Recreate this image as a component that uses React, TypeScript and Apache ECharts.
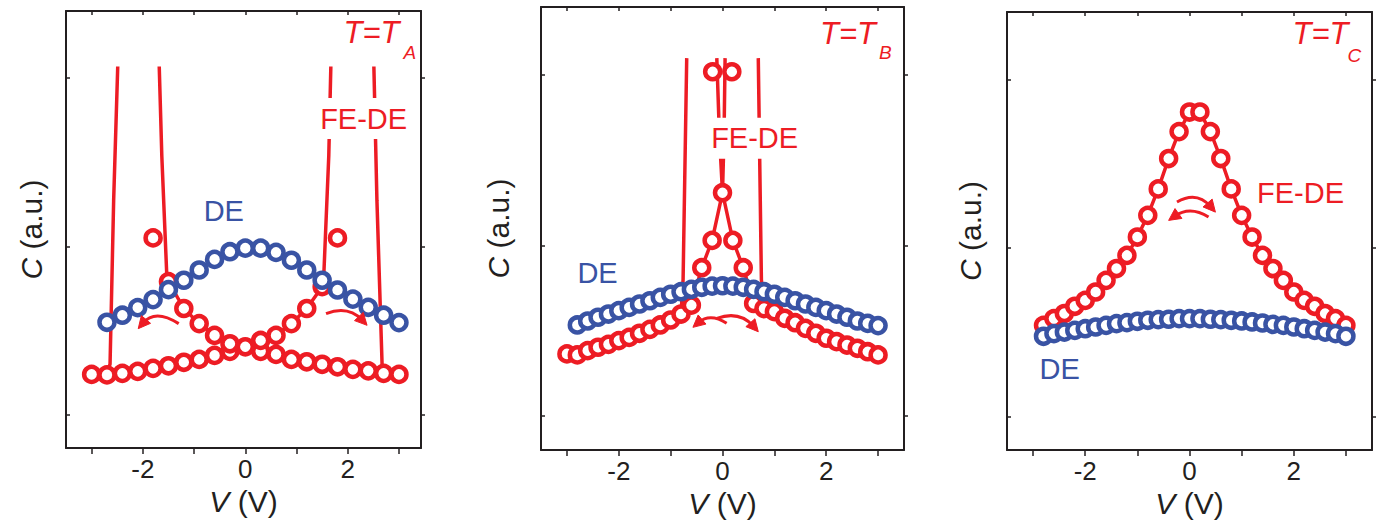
import React, { useEffect, useRef } from 'react';
import * as echarts from 'echarts';

const FONT = '"Liberation Sans", Arial, Helvetica, sans-serif';
const RED = '#ED1C24';
const BLUE = '#3953A4';
const INK = '#231F20';

// ---------- Panel A (T = T_A) ----------
const vA_low = [-3.0, -2.7, -2.4, -2.1, -1.8, -1.5, -1.2, -0.9, -0.6, -0.3, 0.0, 0.3, 0.6, 0.9, 1.2, 1.5, 1.8, 2.1, 2.4, 2.7, 3.0];
const cA_low = [1.238, 1.235, 1.244, 1.256, 1.274, 1.289, 1.31, 1.327, 1.351, 1.375, 1.402, 1.375, 1.357, 1.327, 1.313, 1.298, 1.283, 1.268, 1.259, 1.244, 1.238];
const vA_DE = [-2.7, -2.4, -2.1, -1.8, -1.5, -1.2, -0.9, -0.6, -0.3, 0.0, 0.3, 0.6, 0.9, 1.2, 1.5, 1.8, 2.1, 2.4, 2.7, 3.0];
const cA_DE = [1.548, 1.59, 1.635, 1.683, 1.742, 1.798, 1.859, 1.922, 1.968, 1.989, 1.989, 1.964, 1.917, 1.859, 1.798, 1.74, 1.686, 1.637, 1.59, 1.546];
const vA_armL = [-1.8, -1.5, -1.2, -0.9, -0.6, -0.3];
const cA_armL = [2.05, 1.79, 1.63, 1.54, 1.47, 1.42];
const vA_armR = [0.3, 0.6, 0.9, 1.2, 1.5, 1.8];
const cA_armR = [1.44, 1.47, 1.54, 1.63, 1.76, 2.05];
const vA_riseR = [1.53, 1.63, 1.67];
const cA_riseR = [1.81, 2.54, 3.07];
const vA_dropR = [2.51, 2.57, 2.67];
const cA_dropR = [3.07, 2.27, 1.3];
const vA_riseL = [-1.53, -1.63, -1.68];
const cA_riseL = [1.81, 2.54, 3.07];
const vA_dropL = [-2.49, -2.57, -2.64];
const cA_dropL = [3.07, 2.27, 1.3];

// ---------- Panel B (T = T_B) ----------
const vB_DE = [-2.8, -2.6, -2.4, -2.2, -2.0, -1.8, -1.6, -1.4, -1.2, -1.0, -0.8, -0.6, -0.4, -0.2, 0.0, 0.2, 0.4, 0.6, 0.8, 1.0, 1.2, 1.4, 1.6, 1.8, 2.0, 2.2, 2.4, 2.6, 2.8, 3.0];
const cB_DE = [1.534, 1.557, 1.579, 1.598, 1.618, 1.637, 1.657, 1.676, 1.696, 1.714, 1.729, 1.743, 1.755, 1.762, 1.764, 1.762, 1.755, 1.743, 1.729, 1.714, 1.696, 1.676, 1.657, 1.637, 1.618, 1.598, 1.579, 1.557, 1.543, 1.53];
const vB_lowL = [-3.0, -2.8, -2.6, -2.4, -2.2, -2.0, -1.8, -1.6, -1.4, -1.2, -1.0, -0.8, -0.6];
const cB_lowL = [1.364, 1.358, 1.383, 1.403, 1.42, 1.442, 1.461, 1.485, 1.508, 1.534, 1.563, 1.598, 1.65];
const vB_lowR = [0.6, 0.8, 1.0, 1.2, 1.4, 1.6, 1.8, 2.0, 2.2, 2.4, 2.6, 2.8, 3.0];
const cB_lowR = [1.66, 1.63, 1.612, 1.573, 1.547, 1.514, 1.485, 1.456, 1.436, 1.416, 1.397, 1.377, 1.358];
const vB_peak = [-0.4, -0.2, 0.0, 0.2, 0.4];
const cB_peak = [1.87, 2.03, 2.31, 2.03, 1.87];
const vB_top = [-0.19, 0.18];
const cB_top = [3.02, 3.02];
const vB_riseL = [-0.76, -0.69];
const cB_riseL = [1.8, 3.1];
const vB_dropR = [0.69, 0.75];
const cB_dropR = [3.1, 1.8];
const vB_spikeL = [-0.06, -0.11];
const cB_spikeL = [2.65, 3.1];
const vB_spikeR = [0.03, 0.05];
const cB_spikeR = [2.65, 3.1];

// ---------- Panel C (T = T_C) ----------
const vC = [-2.8, -2.6, -2.4, -2.2, -2.0, -1.8, -1.6, -1.4, -1.2, -1.0, -0.8, -0.6, -0.4, -0.2, 0.0, 0.2, 0.4, 0.6, 0.8, 1.0, 1.2, 1.4, 1.6, 1.8, 2.0, 2.2, 2.4, 2.6, 2.8, 3.0];
const cC_FE = [1.54, 1.58, 1.61, 1.653, 1.688, 1.738, 1.807, 1.877, 1.955, 2.064, 2.193, 2.35, 2.53, 2.69, 2.806, 2.806, 2.69, 2.53, 2.35, 2.193, 2.064, 1.955, 1.877, 1.807, 1.738, 1.688, 1.653, 1.61, 1.58, 1.54];
const cC_DE = [1.475, 1.491, 1.5, 1.51, 1.52, 1.53, 1.54, 1.55, 1.556, 1.564, 1.57, 1.574, 1.576, 1.58, 1.58, 1.58, 1.576, 1.574, 1.57, 1.566, 1.56, 1.554, 1.546, 1.54, 1.53, 1.52, 1.51, 1.5, 1.491, 1.475];

// axis ticks / labels
const xTicks = [-3, -2, -1, 0, 1, 2, 3];
const xLabels = [-2, 0, 2];
const yTicks = [1, 2, 3];

const pair = (xs: number[], ys: number[]) => xs.map((x, i) => [x, ys[i]]);
const slicePair = (xs: number[], ys: number[], a: number, b: number) => pair(xs.slice(a, b), ys.slice(a, b));

export default function App() {
  const ref = useRef<HTMLDivElement>(null);
  useEffect(() => {
    const chart = echarts.init(ref.current!, null, { renderer: 'svg' });

    const panels = [
      { left: 66, top: 11, width: 355, height: 437, xmax: 3.43, yGap: 20 },
      { left: 541, top: 7, width: 363, height: 443, xmax: 3.5, yGap: 28 },
      { left: 1007, top: 12, width: 365, height: 438, xmax: 3.5, yGap: 22 },
    ];

    const grid = panels.map((p) => ({ left: p.left, top: p.top, width: p.width, height: p.height, containLabel: false }));
    const xAxis: any[] = [];
    const yAxis: any[] = [];
    const axisLine = { show: true, onZero: false, lineStyle: { color: INK, width: 2 } };
    panels.forEach((p, i) => {
      xAxis.push({
        gridIndex: i, type: 'value', min: -3.5, max: p.xmax, position: 'bottom',
        axisLine,
        axisTick: { show: true, inside: false, length: 6, customValues: xTicks, lineStyle: { color: INK, width: 1.5 } },
        axisLabel: { show: true, customValues: xLabels, fontSize: 26, color: INK, fontFamily: FONT, margin: 8 },
        splitLine: { show: false },
        name: '{i|V} (V)', nameLocation: 'middle', nameGap: 38,
        nameTextStyle: { fontSize: 30, fontFamily: FONT, color: INK, rich: { i: { fontSize: 30, fontStyle: 'italic', fontFamily: FONT, color: INK } } },
      });
      xAxis.push({
        gridIndex: i, type: 'value', min: -3.5, max: p.xmax, position: 'top',
        axisLine,
        axisTick: { show: true, inside: true, length: 4, customValues: xTicks, lineStyle: { color: INK, width: 1.5 } },
        axisLabel: { show: false }, splitLine: { show: false },
      });
      yAxis.push({
        gridIndex: i, type: 'value', min: 0.8, max: 3.4, position: 'left',
        axisLine,
        axisTick: { show: true, inside: true, length: 4, customValues: yTicks, lineStyle: { color: INK, width: 1.5 } },
        axisLabel: { show: false }, splitLine: { show: false },
        name: '{i|C} (a.u.)', nameLocation: 'middle', nameGap: p.yGap, nameRotate: 90,
        nameTextStyle: { fontSize: 30, fontFamily: FONT, color: INK, rich: { i: { fontSize: 30, fontStyle: 'italic', fontFamily: FONT, color: INK } } },
      });
      yAxis.push({
        gridIndex: i, type: 'value', min: 0.8, max: 3.4, position: 'right',
        axisLine,
        axisTick: { show: true, inside: false, length: 4, customValues: yTicks, lineStyle: { color: INK, width: 1.5 } },
        axisLabel: { show: false }, splitLine: { show: false },
      });
    });

    const line = (p: number, data: number[][], width = 3.5) => ({
      type: 'line', xAxisIndex: 2 * p, yAxisIndex: 2 * p, data, showSymbol: false, symbol: 'none',
      lineStyle: { color: RED, width }, clip: true, z: 2,
    });
    const dots = (p: number, data: number[][], color: string, z: number) => ({
      type: 'scatter', xAxisIndex: 2 * p, yAxisIndex: 2 * p, data, symbol: 'circle', symbolSize: 15,
      itemStyle: { color: '#fff', borderColor: color, borderWidth: 4.5, opacity: 1 }, clip: true, z,
    });

    const series: any[] = [
      // Panel A
      line(0, [...slicePair(vA_low, cA_low, 0, 11), ...slicePair(vA_armR, cA_armR, 0, 5), ...pair(vA_riseR, cA_riseR)]),
      line(0, [...pair(vA_dropR, cA_dropR), ...slicePair(vA_low, cA_low, 19, 21)]),
      line(0, [...slicePair(vA_low, cA_low, 10, 21).reverse(), ...slicePair(vA_armL, cA_armL, 1, 6).reverse(), ...pair(vA_riseL, cA_riseL)]),
      line(0, [...pair(vA_dropL, cA_dropL), ...slicePair(vA_low, cA_low, 0, 2).reverse()]),
      dots(0, [...pair(vA_low, cA_low), ...pair(vA_armL, cA_armL), ...pair(vA_armR, cA_armR)], RED, 3),
      dots(0, pair(vA_DE, cA_DE), BLUE, 4),
      // Panel B
      line(1, [...slicePair(vB_lowL, cB_lowL, 0, 12), ...pair(vB_riseL, cB_riseL)]),
      line(1, [...pair(vB_dropR, cB_dropR), ...slicePair(vB_lowR, cB_lowR, 1, 13)]),
      line(1, [...slicePair(vB_lowL, cB_lowL, 11, 13), ...slicePair(vB_peak, cB_peak, 0, 3), ...pair(vB_spikeL, cB_spikeL)]),
      line(1, [...slicePair(vB_lowR, cB_lowR, 0, 2).reverse(), ...slicePair(vB_peak, cB_peak, 2, 5).reverse(), ...pair(vB_spikeR, cB_spikeR)]),
      dots(1, [...pair(vB_lowL, cB_lowL), ...pair(vB_lowR, cB_lowR), ...pair(vB_peak, cB_peak), ...pair(vB_top, cB_top)], RED, 3),
      dots(1, pair(vB_DE, cB_DE), BLUE, 4),
      // Panel C
      line(2, pair(vC, cC_FE)),
      dots(2, pair(vC, cC_FE), RED, 3),
      dots(2, pair(vC, cC_DE), BLUE, 4),
    ];

    chart.setOption({ animation: false, backgroundColor: '#fff', grid, xAxis, yAxis, series });

    // ---- annotations, positioned in data coordinates ----
    const toPx = (p: number, x: number, y: number) =>
      chart.convertToPixel({ xAxisIndex: 2 * p, yAxisIndex: 2 * p } as any, [x, y]) as number[];

    const texts = [
      { p: 0, x: 2.31, y: 2.76, text: 'FE-DE', color: RED, bg: true },
      { p: 0, x: -0.42, y: 2.21, text: 'DE', color: BLUE, bg: false },
      { p: 1, x: 0.62, y: 2.63, text: 'FE-DE', color: RED, bg: true },
      { p: 1, x: -2.41, y: 1.837, text: 'DE', color: BLUE, bg: false },
      { p: 2, x: 2.13, y: 2.323, text: 'FE-DE', color: RED, bg: false },
      { p: 2, x: -2.49, y: 1.283, text: 'DE', color: BLUE, bg: false },
    ];
    const temps = [
      { p: 0, x: 3.01, y: 3.27, xs: 3.09, ys: 3.155, sub: 'A' },
      { p: 1, x: 2.96, y: 3.246, xs: 3.02, ys: 3.135, sub: 'B' },
      { p: 2, x: 3.05, y: 3.273, xs: 3.03, ys: 3.142, sub: 'C' },
    ];
    // arrows: start, control, end (data coords)
    const arrows = [
      { p: 0, s: [-1.3, 1.54], c: [-1.76, 1.63], e: [-2.09, 1.51] },
      { p: 0, s: [1.576, 1.6], c: [2.01, 1.65], e: [2.377, 1.53] },
      { p: 1, s: [0.08, 1.544], c: [-0.24, 1.606], e: [-0.57, 1.52] },
      { p: 1, s: [-0.11, 1.573], c: [0.33, 1.62], e: [0.69, 1.494] },
      { p: 2, s: [-0.24, 2.272], c: [0.14, 2.341], e: [0.497, 2.212] },
      { p: 2, s: [0.365, 2.183], c: [0.01, 2.252], e: [-0.4, 2.163] },
    ];

    const graphic: any[] = [];
    texts.forEach((t) => {
      const [x, y] = toPx(t.p, t.x, t.y);
      graphic.push({
        type: 'text', x, y, z: 100,
        style: {
          text: t.text, fill: t.color, fontSize: 29, fontFamily: FONT, align: 'center', verticalAlign: 'middle',
          backgroundColor: t.bg ? '#fff' : undefined, padding: t.bg ? [7, 2, 5, 2] : 0,
        },
      });
    });
    temps.forEach((t) => {
      const [x, y] = toPx(t.p, t.x, t.y);
      const [xs, ys] = toPx(t.p, t.xs, t.ys);
      graphic.push({
        type: 'text', x, y, z: 100,
        style: { text: 'T=T', fill: RED, fontSize: 31, fontStyle: 'italic', fontFamily: FONT, align: 'right', verticalAlign: 'middle' },
      });
      graphic.push({
        type: 'text', x: xs, y: ys, z: 100,
        style: { text: t.sub, fill: RED, fontSize: 19, fontStyle: 'italic', fontFamily: FONT, align: 'left', verticalAlign: 'middle' },
      });
    });
    arrows.forEach((a) => {
      const [x1, y1] = toPx(a.p, a.s[0], a.s[1]);
      const [cx, cy] = toPx(a.p, a.c[0], a.c[1]);
      const [x2, y2] = toPx(a.p, a.e[0], a.e[1]);
      let dx = x2 - cx, dy = y2 - cy;
      const len = Math.hypot(dx, dy) || 1;
      dx /= len; dy /= len;
      const L = 12, W = 6;
      const bx = x2 - dx * L * 0.6, by = y2 - dy * L * 0.6;
      graphic.push({
        type: 'bezierCurve', z: 100,
        shape: { x1, y1, x2: bx, y2: by, cpx1: cx, cpy1: cy },
        style: { stroke: RED, lineWidth: 3, fill: null },
      });
      graphic.push({
        type: 'polygon', z: 100,
        shape: { points: [[x2, y2], [x2 - dx * L - dy * W, y2 - dy * L + dx * W], [x2 - dx * L + dy * W, y2 - dy * L - dx * W]] },
        style: { fill: RED, stroke: RED, lineWidth: 1 },
      });
    });
    chart.setOption({ graphic });

    return () => chart.dispose();
  }, []);
  return <div ref={ref} style={{ position: 'fixed', left: 0, top: 0, width: 1378, height: 529, background: '#fff' }} />;
}
